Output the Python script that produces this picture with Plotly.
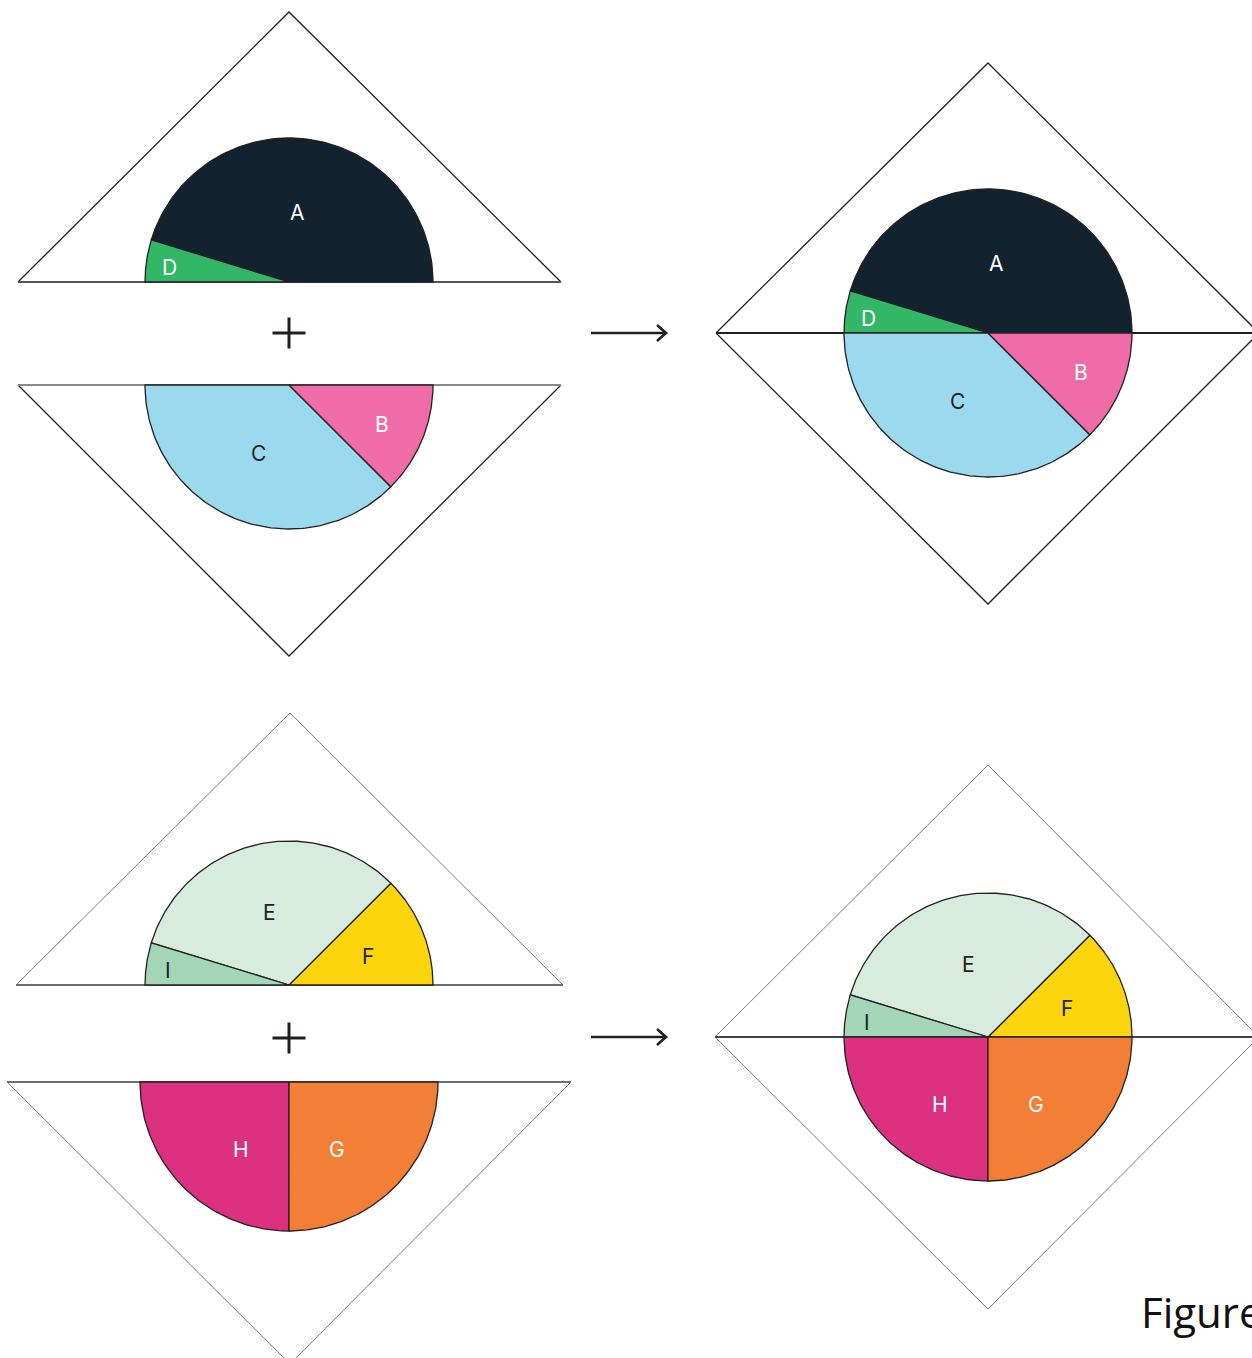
import numpy as np
import plotly.graph_objects as go

W, H = 1252, 1358

# ---- data: sector boundaries (degrees, counter-clockwise from east) ----
ab_top_edges = [0, 163, 180]
ab_top_labels = ["A", "D"]
ab_bot_edges = [180, 315, 360]
ab_bot_labels = ["C", "B"]
ef_top_edges = [0, 45, 163, 180]
ef_top_labels = ["F", "E", "I"]
ef_bot_edges = [180, 270, 360]
ef_bot_labels = ["H", "G"]

fill_colors = {"A": "#13222f", "B": "#ef6ca8", "C": "#9bdaee", "D": "#31b766",
               "E": "#d7ecdc", "F": "#fdd50c", "G": "#f37e35", "H": "#dc3180",
               "I": "#a2d6b7"}
text_colors = {"A": "white", "B": "white", "C": "#231f20", "D": "white",
               "E": "#231f20", "F": "#231f20", "G": "white", "H": "white",
               "I": "#231f20"}
# label placement: angle (deg) and distance from centre (px)
label_angle = {"A": 83, "D": 173, "C": 246, "B": 337, "E": 105, "F": 20,
               "I": 173, "H": 235, "G": 305}
label_dist = {"A": 70, "D": 120, "C": 75, "B": 101, "E": 75, "F": 84,
              "I": 122, "H": 83, "G": 83}

footer_text = "Figure"

DARK = "#231f20"
GREY = "#7a7a7a"

fig = go.Figure()


def line(xs, ys, color=DARK, width=1.3):
    fig.add_trace(go.Scatter(x=xs, y=ys, mode="lines", hoverinfo="skip",
                             line=dict(color=color, width=width),
                             showlegend=False))


def sectors(cx, cy, r, edges, labels):
    for i, lab in enumerate(labels):
        a0, a1 = np.radians(edges[i]), np.radians(edges[i + 1])
        t = np.linspace(a0, a1, 120)
        xs = np.concatenate([[cx], cx + r * np.cos(t), [cx]])
        ys = np.concatenate([[cy], cy - r * np.sin(t), [cy]])
        fig.add_trace(go.Scatter(x=xs, y=ys, mode="lines", fill="toself",
                                 fillcolor=fill_colors[lab], hoverinfo="skip",
                                 line=dict(color=DARK, width=1.3),
                                 showlegend=False))
        la = np.radians(label_angle[lab])
        d = label_dist[lab]
        fig.add_annotation(x=cx + d * np.cos(la), y=cy - d * np.sin(la),
                           text=lab, showarrow=False,
                           font=dict(family="Inter", size=21,
                                     color=text_colors[lab]))


def plus(cx, cy, s=16.5):
    line([cx - s, cx + s], [cy, cy], DARK, 3)
    line([cx, cx], [cy - 15.5, cy + 15.5], DARK, 3)


def arrow(x0, x1, y):
    line([x0, x1], [y, y], DARK, 2.6)
    line([x1 - 9, x1, x1 - 9], [y - 8, y, y + 8], DARK, 2.6)


# ---------------- top group (A-D) ----------------
line([18, 289, 561], [282, 12, 282], DARK, 1.3)
line([18, 561], [282, 282], "#555555", 1.8)
line([18, 289, 561], [385, 656, 385], DARK, 1.3)
line([18, 561], [385, 385], "#8a8a8a", 1.8)
line([716, 988, 1259, 988, 716], [333, 63, 333, 604, 333], DARK, 1.3)
line([716, 1259], [333, 333], DARK, 1.8)

sectors(289, 282, 144, ab_top_edges, ab_top_labels)
sectors(289, 385, 144, ab_bot_edges, ab_bot_labels)
sectors(988, 333, 144, ab_top_edges, ab_top_labels)
sectors(988, 333, 144, ab_bot_edges, ab_bot_labels)
plus(289, 333)
arrow(591, 666, 333)

# ---------------- bottom group (E-I) ----------------
line([16, 290, 563], [985, 713, 985], GREY, 1.0)
line([16, 563], [985, 985], "#6f6f6f", 2.0)
line([7, 290, 571], [1082, 1364, 1082], GREY, 1.0)
line([7, 571], [1082, 1082], "#6f6f6f", 2.0)
line([715, 988, 1259, 988, 715], [1037, 765, 1037, 1309, 1037], GREY, 1.0)
line([715, 1259], [1037, 1037], "#444444", 1.8)

sectors(289, 985, 144, ef_top_edges, ef_top_labels)
sectors(289, 1082, 149, ef_bot_edges, ef_bot_labels)
sectors(988, 1037, 144, ef_top_edges, ef_top_labels)
sectors(988, 1037, 144, ef_bot_edges, ef_bot_labels)
plus(289, 1038)
arrow(591, 666, 1037)

fig.add_annotation(x=1139, y=1311, text=footer_text, showarrow=False,
                   xanchor="left", yanchor="middle",
                   font=dict(family="Open Sans", size=42, color="#111111"))

fig.update_layout(
    width=W, height=H, margin=dict(l=0, r=0, t=0, b=0),
    paper_bgcolor="white", plot_bgcolor="white",
    xaxis=dict(range=[0, W], visible=False, fixedrange=True),
    yaxis=dict(range=[H, 0], visible=False, fixedrange=True),
    showlegend=False,
)

fig.write_html("out.html", config={"displayModeBar": False},
               post_script="document.body.style.margin='0';document.body.style.overflow='hidden';")
